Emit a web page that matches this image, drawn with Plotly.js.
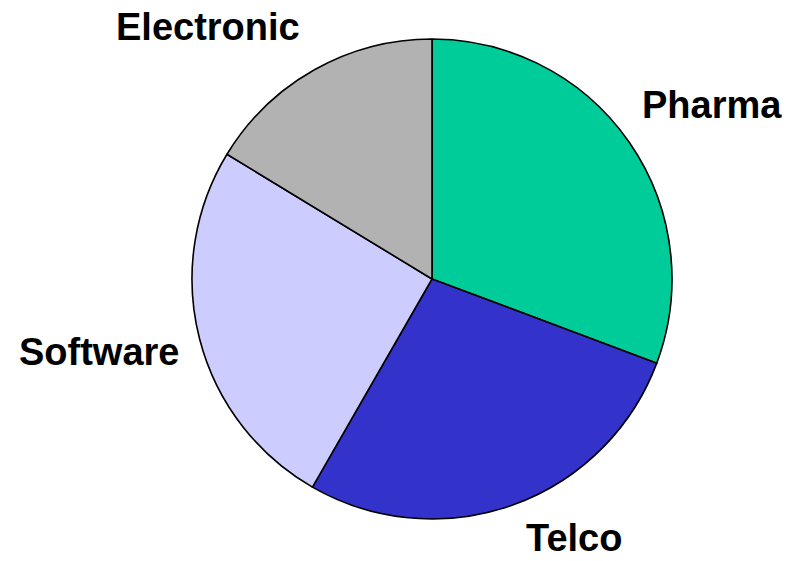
<!DOCTYPE html>
<html>
<head>
<meta charset="utf-8">
<script src="https://cdn.plot.ly/plotly-3.0.1.min.js"></script>
<style>html,body{margin:0;padding:0;background:#fff;}#chart{width:794px;height:561px;}</style>
</head>
<body>
<div id="chart"></div>
<script>
const categories = ["Pharma", "Telco", "Software", "Electronic"];
const values = [30.7, 27.6, 25.4, 16.3];
const colors = ["#00CC99", "#3333CC", "#CCCCFF", "#B2B2B2"];

// label placement (pixels from top-left) for each category
const labelX = [712, 574, 99, 208];
const labelY = [105, 538, 352, 27];

const W = 794, H = 561;
const annotations = categories.map((c, i) => ({
  text: "<b>" + c + "</b>",
  x: labelX[i] / W, y: 1 - labelY[i] / H,
  xref: "paper", yref: "paper",
  xanchor: "center", yanchor: "middle",
  showarrow: false,
  font: {family: "Liberation Sans, Arial, sans-serif", size: 38, color: "#000"}
}));

const trace = {
  type: "pie",
  labels: categories,
  values: values,
  sort: false,
  direction: "clockwise",
  rotation: 0,
  textinfo: "none",
  hoverinfo: "label+percent",
  marker: {colors: colors, line: {color: "#000", width: 1.6}},
  domain: {x: [192 / W, 672 / W], y: [1 - 519 / H, 1 - 39 / H]},
  showlegend: false
};

Plotly.newPlot("chart", [trace], {
  width: W, height: H,
  margin: {l: 0, r: 0, t: 0, b: 0},
  paper_bgcolor: "#fff",
  showlegend: false,
  annotations: annotations
}, {displayModeBar: false, staticPlot: true});
</script>
</body>
</html>
